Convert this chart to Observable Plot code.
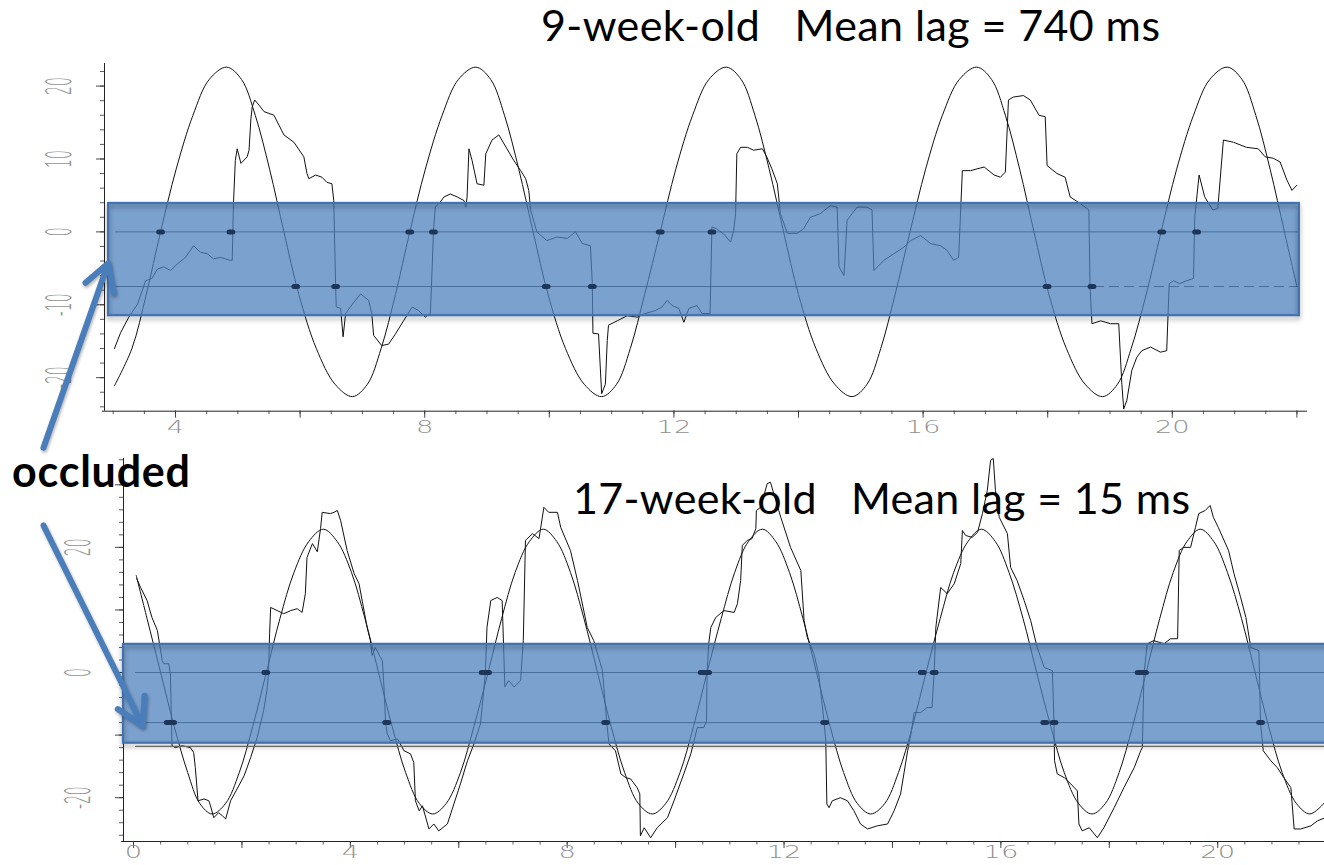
<!DOCTYPE html>
<html><head><meta charset="utf-8">
<script src="https://cdn.jsdelivr.net/npm/d3@7"></script>
<script src="https://cdn.jsdelivr.net/npm/@observablehq/plot@0.6"></script>
<style>
html,body{margin:0;padding:0;background:#fff;}
#wrap{position:relative;width:1324px;height:865px;overflow:hidden;background:#fff;}
#wrap svg{position:absolute;left:0;}
</style></head><body><div id="wrap"></div>
<script>
// ---------- DATA ----------
const titleTop = "9-week-old   Mean lag = 740 ms";
const titleBottom = "17-week-old   Mean lag = 15 ms";
const occludedLabel = "occluded";

const xLabelsTop = [4, 8, 12, 16, 20];
const yLabelsTop = [-20, -10, 0, 10, 20];
const xLabelsBottom = [0, 4, 8, 12, 16, 20];
const yLabelsBottom = [-20, 0, 20];

// target (sinusoidal stimulus), [time s, position]
const stimTop = [[3.02,-21.1],[3.30,-16],[3.53,-8.6],[3.76,0],[4.01,8.6],[4.28,16],[4.54,20.9],[4.82,22.6],[5.06,20.9],[5.28,16],[5.51,8.6],[5.74,0],[5.98,-8.6],[6.26,-16],[6.56,-20.9],[6.84,-22.6],
[7.08,-20.9],[7.30,-16],[7.53,-8.6],[7.76,0],[8.01,8.6],[8.28,16],[8.54,20.9],[8.82,22.6],[9.06,20.9],[9.28,16],[9.51,8.6],[9.74,0],[9.98,-8.6],[10.26,-16],[10.56,-20.9],[10.84,-22.6],
[11.08,-20.9],[11.30,-16],[11.53,-8.6],[11.78,0],[12.03,8.6],[12.30,16],[12.56,20.9],[12.84,22.6],[13.08,20.9],[13.30,16],[13.53,8.6],[13.76,0],[14.00,-8.6],[14.28,-16],[14.58,-20.9],[14.86,-22.6],
[15.10,-20.9],[15.32,-16],[15.55,-8.6],[15.79,0],[16.04,8.6],[16.31,16],[16.58,20.9],[16.86,22.6],[17.10,20.9],[17.32,16],[17.55,8.6],[17.78,0],[18.02,-8.6],[18.30,-16],[18.60,-20.9],[18.88,-22.6],
[19.12,-20.9],[19.34,-16],[19.58,-8.6],[19.82,0],[20.07,8.6],[20.34,16],[20.60,20.9],[20.88,22.6],[21.12,20.9],[21.34,16],[21.57,8.6],[21.80,0],[22.00,-7.5]];

// eye position, 9-week-old
const eyeTop = [[3.02,-16.0],[3.12,-13.8],[3.25,-11.7],[3.39,-9.9],[3.52,-6.7],[3.62,-6.4],[3.71,-5.1],[3.81,-4.8],[3.92,-5.3],[4.03,-4.4],[4.16,-3.5],[4.29,-1.9],[4.40,-2.8],[4.51,-3.0],[4.61,-3.7],[4.72,-3.5],[4.88,-3.9],[4.91,-3.9],[4.93,3.9],[4.96,9.8],[4.99,11.4],[5.05,9.4],[5.15,10.3],[5.18,11.2],[5.21,15.5],[5.23,17.1],[5.27,18.1],[5.34,17.4],[5.42,16.5],[5.58,16.0],[5.74,13.3],[5.90,12.3],[6.06,10.3],[6.11,8.0],[6.14,7.3],[6.25,7.8],[6.35,7.5],[6.43,6.8],[6.51,6.6],[6.54,4.3],[6.57,-7.6],[6.58,-10.3],[6.65,-10.5],[6.69,-14.4],[6.73,-11.2],[6.84,-9.9],[6.97,-8.5],[7.10,-9.4],[7.15,-11.2],[7.18,-14.2],[7.31,-15.6],[7.42,-15.4],[7.53,-14.0],[7.66,-12.2],[7.80,-10.3],[7.90,-10.8],[8.01,-11.7],[8.09,-11.2],[8.12,-4.8],[8.14,0],[8.17,3.4],[8.25,4.1],[8.31,4.8],[8.41,5.2],[8.52,4.8],[8.63,4.3],[8.66,3.4],[8.68,4.8],[8.71,11.4],[8.76,9.8],[8.84,6.6],[8.95,6.4],[8.98,10.7],[9.08,12.6],[9.19,13.3],[9.32,11.4],[9.43,9.8],[9.54,8.4],[9.62,7.3],[9.67,5.7],[9.70,3.0],[9.80,0],[9.96,-1.2],[10.12,-0.7],[10.29,-0.9],[10.42,0],[10.53,-1.6],[10.66,-1.9],[10.69,-7.1],[10.70,-13.9],[10.79,-14.0],[10.84,-22.2],[10.90,-20.9],[10.93,-14.9],[10.95,-12.8],[11.09,-12.2],[11.25,-11.5],[11.41,-11.7],[11.54,-11.2],[11.70,-10.8],[11.81,-10.3],[11.89,-9.4],[11.97,-10.1],[12.08,-10.5],[12.16,-12.4],[12.24,-10.5],[12.37,-10.1],[12.45,-11.2],[12.58,-11.2],[12.61,0.7],[12.69,0.4],[12.80,-0.3],[12.91,-1.4],[12.96,0.2],[12.99,2.5],[13.01,10.7],[13.07,11.6],[13.18,11.6],[13.28,11.2],[13.42,11.4],[13.49,10.3],[13.57,8.7],[13.66,6.6],[13.71,2.5],[13.82,-0.2],[13.98,-0.2],[14.08,0.4],[14.19,2.0],[14.35,2.5],[14.51,3.6],[14.62,3.4],[14.65,-4.8],[14.73,-6.0],[14.78,1.6],[14.94,3.4],[15.10,3.4],[15.18,3.0],[15.21,-5.3],[15.37,-3.9],[15.53,-3.0],[15.69,-2.1],[15.80,-1.2],[15.96,-0.5],[16.12,-1.6],[16.28,-1.9],[16.38,-2.5],[16.49,-3.9],[16.57,-3.5],[16.63,8.4],[16.76,8.4],[16.98,8.9],[17.14,7.8],[17.24,7.5],[17.32,8.2],[17.37,18.1],[17.45,18.5],[17.61,18.7],[17.72,18.1],[17.86,16.0],[17.96,15.8],[17.99,9.1],[18.15,8.0],[18.28,7.5],[18.36,4.8],[18.52,3.9],[18.66,3.0],[18.68,-7.6],[18.71,-12.6],[18.85,-12.2],[19.01,-12.6],[19.14,-12.6],[19.19,-20.9],[19.22,-24.3],[19.27,-23.1],[19.35,-19.0],[19.43,-17.2],[19.51,-16.3],[19.65,-15.8],[19.81,-16.5],[19.91,-16.3],[19.95,-7.1],[20.02,-6.7],[20.12,-7.1],[20.23,-6.7],[20.34,-6.4],[20.36,2.0],[20.43,7.8],[20.52,4.8],[20.65,3.0],[20.73,3.2],[20.82,12.6],[20.98,12.3],[21.19,11.6],[21.38,11.4],[21.49,10.3],[21.62,10.1],[21.73,9.6],[21.84,7.1],[21.92,5.7],[22.00,6.4]];

const stimBottom = [[0.05,15.5],[0.25,8.6],[0.50,0],[0.75,-8.6],[1.00,-16],[1.22,-20.9],[1.45,-22.6],
[1.70,-20.9],[1.95,-16],[2.20,-8.6],[2.45,0],[2.70,8.6],[2.96,16],[3.23,20.9],[3.50,22.9],[3.76,20.9],[4.02,16],[4.27,8.6],[4.52,0],[4.77,-8.6],[5.02,-16],[5.27,-20.9],[5.52,-22.6],
[5.77,-20.9],[6.03,-16],[6.28,-8.6],[6.54,0],[6.79,8.6],[7.04,16],[7.30,20.9],[7.56,22.9],[7.81,20.9],[8.06,16],[8.31,8.6],[8.56,0],[8.81,-8.6],[9.06,-16],[9.31,-20.9],[9.57,-22.6],
[9.82,-20.9],[10.08,-16],[10.33,-8.6],[10.58,0],[10.84,8.6],[11.09,16],[11.34,20.9],[11.60,22.9],[11.85,20.9],[12.10,16],[12.35,8.6],[12.60,0],[12.85,-8.6],[13.10,-16],[13.35,-20.9],[13.60,-22.6],
[13.86,-20.9],[14.11,-16],[14.37,-8.6],[14.62,0],[14.88,8.6],[15.13,16],[15.39,20.9],[15.64,22.9],[15.90,20.9],[16.15,16],[16.41,8.6],[16.66,0],[16.92,-8.6],[17.17,-16],[17.43,-20.9],[17.68,-22.6],
[17.93,-20.9],[18.18,-16],[18.43,-8.6],[18.68,0],[18.93,8.6],[19.18,16],[19.43,20.9],[19.68,22.9],[19.93,20.9],[20.18,16],[20.44,8.6],[20.69,0],[20.94,-8.6],[21.19,-16],[21.45,-20.9],[21.70,-22.6],[21.97,-20.8]];

// eye position, 17-week-old
const eyeBottom = [[0.06,15.0],[0.13,13.6],[0.25,11.5],[0.34,8.8],[0.44,6.7],[0.53,1.9],[0.56,1.4],[0.65,1.4],[0.68,-0.2],[0.71,-11.7],[0.77,-12.0],[0.90,-11.7],[1.05,-12.0],[1.11,-12.8],[1.14,-15.2],[1.19,-20.5],[1.30,-20.2],[1.39,-20.5],[1.42,-21.3],[1.48,-23.2],[1.57,-22.4],[1.64,-22.9],[1.70,-23.4],[1.79,-20.5],[1.91,-18.6],[2.04,-16.5],[2.16,-13.6],[2.28,-10.4],[2.40,-6.1],[2.46,-2.9],[2.49,-0.2],[2.51,6.2],[2.53,10.4],[2.65,9.9],[2.77,9.4],[2.90,9.9],[3.02,10.2],[3.11,9.6],[3.17,12.6],[3.20,18.4],[3.30,20.6],[3.39,19.3],[3.45,23.0],[3.48,25.6],[3.63,25.4],[3.70,25.6],[3.76,25.9],[3.82,24.3],[3.94,19.5],[4.07,15.8],[4.16,14.2],[4.31,7.2],[4.37,5.1],[4.40,2.7],[4.46,4.0],[4.59,1.9],[4.62,-2.3],[4.65,-8.0],[4.68,-9.8],[4.74,-10.9],[4.87,-10.6],[4.99,-12.5],[5.11,-13.0],[5.17,-14.4],[5.20,-20.5],[5.27,-22.1],[5.33,-21.3],[5.45,-25.0],[5.54,-24.2],[5.63,-25.3],[5.79,-24.2],[5.91,-21.0],[6.03,-17.8],[6.16,-14.1],[6.28,-11.4],[6.40,-8.2],[6.49,-0.2],[6.52,7.2],[6.59,11.5],[6.71,12.0],[6.80,11.5],[6.85,-2.3],[6.92,-1.3],[7.02,-2.3],[7.14,-1.3],[7.19,5.1],[7.23,21.1],[7.36,22.2],[7.48,21.4],[7.57,26.4],[7.66,25.6],[7.82,25.6],[7.88,23.2],[8.06,19.5],[8.19,14.7],[8.37,7.2],[8.49,5.1],[8.65,0.3],[8.73,-8.0],[8.77,-11.4],[8.89,-12.5],[8.99,-16.2],[9.08,-16.8],[9.17,-17.0],[9.29,-18.4],[9.34,-19.4],[9.35,-26.1],[9.42,-24.8],[9.54,-26.4],[9.66,-24.8],[9.85,-23.2],[9.97,-20.5],[10.15,-16.2],[10.28,-13.0],[10.40,-8.8],[10.52,-8.8],[10.57,-7.7],[10.58,-0.2],[10.61,4.6],[10.65,7.2],[10.74,8.8],[10.89,9.9],[11.08,9.6],[11.14,11.0],[11.20,14.7],[11.23,20.3],[11.32,21.1],[11.41,21.4],[11.48,23.0],[11.49,25.9],[11.57,26.4],[11.69,30.2],[11.75,30.4],[11.81,28.6],[11.94,24.8],[12.12,20.0],[12.31,16.3],[12.37,8.3],[12.43,5.6],[12.55,3.0],[12.64,-0.2],[12.74,-8.0],[12.77,-10.9],[12.79,-21.0],[12.83,-21.6],[12.89,-20.5],[13.04,-20.0],[13.17,-20.5],[13.29,-22.1],[13.41,-24.2],[13.54,-25.0],[13.72,-24.5],[13.91,-24.2],[14.03,-22.1],[14.15,-19.4],[14.28,-12.5],[14.34,-9.9],[14.40,-6.4],[14.52,-6.4],[14.64,-5.6],[14.73,-5.6],[14.77,0.2],[14.80,7.2],[14.89,13.6],[15.01,12.6],[15.14,14.2],[15.26,17.4],[15.29,22.7],[15.35,21.9],[15.47,21.6],[15.57,22.4],[15.66,25.4],[15.75,29.1],[15.81,33.9],[15.86,34.2],[15.90,29.1],[15.97,24.8],[16.12,22.2],[16.18,16.8],[16.30,14.7],[16.43,11.5],[16.55,8.3],[16.67,4.0],[16.80,0.8],[16.95,0.3],[16.98,-8.0],[16.99,-14.1],[17.04,-16.2],[17.17,-16.8],[17.29,-17.8],[17.41,-18.9],[17.44,-24.2],[17.50,-25.3],[17.63,-24.8],[17.78,-26.4],[17.90,-24.8],[18.09,-21.6],[18.27,-18.4],[18.46,-15.2],[18.58,-12.5],[18.61,-12.0],[18.64,-0.2],[18.70,4.6],[18.82,5.1],[19.01,4.6],[19.13,5.4],[19.26,5.4],[19.29,19.5],[19.37,20.0],[19.50,20.0],[19.59,23.2],[19.65,25.4],[19.77,25.9],[19.86,26.7],[19.92,24.8],[20.01,23.2],[20.20,19.5],[20.30,15.8],[20.42,12.1],[20.52,8.8],[20.61,4.0],[20.76,3.5],[20.79,-8.0],[20.84,-12.5],[20.98,-14.1],[21.10,-15.2],[21.22,-16.8],[21.35,-18.4],[21.41,-25.0],[21.53,-25.0],[21.72,-24.5],[21.84,-23.7],[21.98,-23.2]];

// crossing markers (time of crossing at the two reference levels)
const dotsTopZero = [3.76, 4.89, 7.76, 8.14, 11.78, 12.61, 19.83, 20.39];
const dotsTopLow = [5.93, 6.57, 9.95, 10.69, 17.99, 18.71];
const dotsBottomZero = [2.44, 6.45, 6.53, 10.49, 10.59, 14.55, 14.77, 18.55, 18.65];
const dotsBottomLow = [0.64, 0.72, 4.67, 8.71, 12.75, 16.81, 16.98, 20.79];
const levelsTop = {zero: 0, low: -7.5, start: 3.04, end: 22.04, dashFrom: 18.75};
const levelsBottom = {zero: 0, low: -8.0, edge: -11.8, start: 0.04, end: 22.3};

// occluded regions (annotation bands) and arrows, in data units
const bandTop = {x1: 2.925, x2: 22.04, y1: 3.9, y2: -11.5};
const bandBottom = {x1: -0.185, x2: 22.6, y1: 4.5, y2: -11.3};
const arrowTop = {x1: 1.88, y1: -29.6, x2: 2.92, y2: -4.3};
const arrowBottom = {x1: -1.66, y1: 23.5, x2: 0.17, y2: -8.5};

// ---------- DRAW ----------
const BLUE = "#4f81bd", BLUE_EDGE = "#4272b0", ARROW = "#4a7ebb", INK = "#111";
const XLAB = "#909090", YLAB = "#919191";
const wrap = document.getElementById("wrap");

function stretch(svg, fill, rotated, sx, sy) {
  svg.querySelectorAll(`g[fill="${fill}"] text`).forEach(el => {
    let t = el.getAttribute("transform") || "";
    if (el.hasAttribute("x") || el.hasAttribute("y")) {
      const x = +el.getAttribute("x") || 0, y = +el.getAttribute("y") || 0;
      el.removeAttribute("x"); el.removeAttribute("y");
      t = `translate(${x},${y}) ` + t;
    }
    if (rotated) {
      t = t.includes("rotate") ? t.replace(/rotate\(([^)]*)\)/, `scale(${sx},1) rotate($1) scale(1,${sy})`)
                               : `${t} scale(${sx},1) rotate(-90) scale(1,${sy})`;
    } else {
      t = `${t} scale(${sx},${sy})`;
    }
    el.setAttribute("transform", t);
  });
}

function panel(cfg) {
  const {width, height, ml, mr, mt, mb, xDom, yDom, xMinor, xMajor, xLabels, yMinor, yMajor, yLabels,
         stim, eye, band, arrow, xLabelDy} = cfg;
  const kx = (width - ml - mr) / (xDom[1] - xDom[0]);
  const ky = (height - mt - mb) / (yDom[1] - yDom[0]);
  const [x0, x1] = xDom, [y0, y1] = yDom;
  const lab = {fontFamily: "DejaVu Sans", fontWeight: 200, fontSize: 14};
  const bandPos = {x1: d => d.x1, x2: d => d.x2, y1: d => d.y1, y2: d => d.y2};
  const marks = [
    Plot.ruleY([y0], {x1: x0 - 2 / kx, x2: x1, stroke: "#222", strokeWidth: 1}),
    Plot.ruleX([x0], {y1: y0, y2: y1, stroke: "#222", strokeWidth: 1}),
    Plot.ruleX(xMinor, {x: d => d, y1: y0, y2: y0 - 3.5 / ky, stroke: "#333", strokeWidth: 0.8}),
    Plot.ruleX(xMajor, {x: d => d, y1: y0, y2: y0 - 7 / ky, stroke: "#333", strokeWidth: 0.9}),
    Plot.ruleY(yMinor, {y: d => d, x1: x0, x2: x0 - 4 / kx, stroke: "#333", strokeWidth: 0.8}),
    Plot.ruleY(yMajor, {y: d => d, x1: x0, x2: x0 - 8 / kx, stroke: "#333", strokeWidth: 0.9}),
    Plot.text(xLabels, {x: d => d, y: y0, dy: xLabelDy, text: d => String(d), fill: XLAB, ...lab}),
    Plot.text(yLabels, {x: x0, y: d => d, dx: -34, rotate: -90, text: d => String(d), fill: YLAB, ...lab}),
    Plot.line(stim, {x: d => d[0], y: d => d[1], curve: "catmull-rom", stroke: INK, strokeWidth: 1}),
    Plot.line(eye, {x: d => d[0], y: d => d[1], stroke: INK, strokeWidth: 1}),
    ...cfg.refMarks,
    Plot.rect([band], {...bandPos, fill: BLUE, fillOpacity: 0.75}),
    Plot.rect([band], {...bandPos, fill: "none", stroke: BLUE_EDGE, strokeWidth: 2.2}),
    ...cfg.dotMarks,
    Plot.arrow([arrow], {x1: d => d.x1, y1: d => d.y1, x2: d => d.x2, y2: d => d.y2,
      stroke: ARROW, strokeWidth: 6, headLength: 7.5})
  ];
  const svg = Plot.plot({
    width, height, marginLeft: ml, marginRight: mr, marginTop: mt, marginBottom: mb,
    x: {domain: xDom, axis: null}, y: {domain: yDom, axis: null},
    style: {background: "transparent", overflow: "visible"},
    marks
  });
  // stretched tick-label glyphs like the reference
  stretch(svg, XLAB, false, 1.95, 1.27);
  stretch(svg, YLAB, true, 2, 1.27);
  // soft shadow only along the outline of the band, and under the arrow
  svg.querySelectorAll(`g[stroke="${BLUE_EDGE}"]`).forEach(el => {
    el.style.filter = "drop-shadow(0px 3px 2.5px rgba(0,0,0,0.4))";
  });
  svg.querySelectorAll(`g[stroke="${ARROW}"]`).forEach(el => {
    el.style.filter = "drop-shadow(1px 2px 1.5px rgba(0,0,0,0.3))";
  });
  return svg;
}

function dotMarks(zero, low, zeroLevel, lowLevel, half) {
  const st = {stroke: "#1d3658", strokeWidth: 5, strokeLinecap: "round"};
  return [
    Plot.link(zero, {x1: d => d - half, x2: d => d + half, y1: zeroLevel, y2: zeroLevel, ...st}),
    Plot.link(low, {x1: d => d - half, x2: d => d + half, y1: lowLevel, y2: lowLevel, ...st})
  ];
}

// top panel (9-week-old)
const topSvg = panel({
  width: 1324, height: 455, ml: 104, mr: 17, mt: 63, mb: 44.3,
  xDom: [2.86, 22.17], yDom: [-24.6, 23.1],
  xMinor: d3.range(3, 22.01, 0.5), xMajor: d3.range(4, 22.01, 2), xLabels: xLabelsTop,
  yMinor: d3.range(-24, 22.01, 2), yMajor: [-20, -10, 0, 10, 20], yLabels: yLabelsTop,
  stim: stimTop, eye: eyeTop, band: bandTop, arrow: arrowTop, xLabelDy: 22,
  refMarks: [
    Plot.ruleY([levelsTop.zero], {x1: levelsTop.start, x2: levelsTop.end, stroke: "#000", strokeWidth: 0.8}),
    Plot.ruleY([levelsTop.low], {x1: levelsTop.start, x2: levelsTop.dashFrom, stroke: "#000", strokeWidth: 0.8}),
    Plot.ruleY([levelsTop.low], {x1: levelsTop.dashFrom, x2: levelsTop.end, stroke: "#000", strokeWidth: 0.8, strokeDasharray: "10,5"})
  ],
  dotMarks: dotMarks(dotsTopZero, dotsTopLow, levelsTop.zero, levelsTop.low, 0.03)
});
topSvg.style.top = "0px";

// bottom panel (17-week-old)
const botSvg = panel({
  width: 1324, height: 425, ml: 123, mr: 0, mt: 18, mb: 24,
  xDom: [-0.185, 21.97], yDom: [-27.0, 34.2],
  xMinor: d3.range(0, 22.01, 0.5), xMajor: d3.range(0, 22.01, 2), xLabels: xLabelsBottom,
  yMinor: d3.range(-26, 34.01, 2), yMajor: [-20, -10, 0, 10, 20, 30], yLabels: yLabelsBottom,
  stim: stimBottom, eye: eyeBottom, band: bandBottom, arrow: arrowBottom, xLabelDy: 16,
  refMarks: [
    Plot.ruleY([levelsBottom.zero], {x1: levelsBottom.start, x2: levelsBottom.end, stroke: "#000", strokeWidth: 0.8}),
    Plot.ruleY([levelsBottom.low], {x1: levelsBottom.start, x2: levelsBottom.end, stroke: "#000", strokeWidth: 0.8}),
    Plot.ruleY([levelsBottom.edge], {x1: levelsBottom.start, x2: levelsBottom.end, stroke: "#777", strokeWidth: 1.2})
  ],
  dotMarks: dotMarks(dotsBottomZero, dotsBottomLow, levelsBottom.zero, levelsBottom.low, 0.035)
});
botSvg.style.top = "440px";

wrap.appendChild(botSvg);
wrap.appendChild(topSvg);

// titles and the "occluded" annotation
const over = d3.create("svg").attr("width", 1324).attr("height", 865)
  .style("top", "0px").style("pointer-events", "none");
function label(txt, x, y, size, weight, len) {
  over.append("text").attr("x", x).attr("y", y).text(txt)
    .attr("font-family", "Lato").attr("font-size", size).attr("font-weight", weight)
    .attr("fill", "#000").style("white-space", "pre")
    .attr("textLength", len).attr("lengthAdjust", "spacing");
}
label(titleTop, 541, 41, 43, 400, 619);
label(titleBottom, 573, 514, 43, 400, 617);
label(occludedLabel, 12, 487, 43, 700, 178);
wrap.appendChild(over.node());
</script></body></html>
